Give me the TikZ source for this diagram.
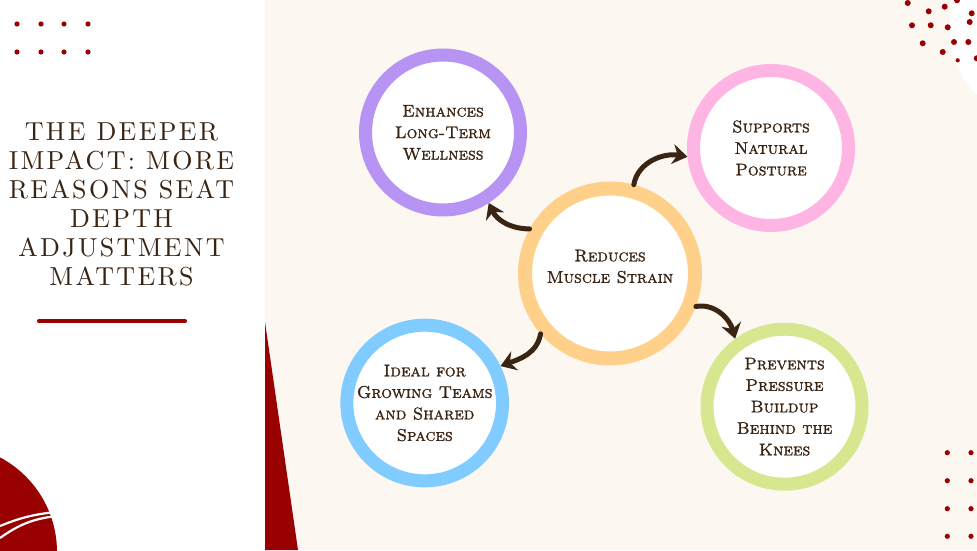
\documentclass[tikz,border=0pt]{standalone}
\usepackage{fontspec}
\usetikzlibrary{arrows.meta}
\newfontfamily\titlefont{lmroman10-regular.otf}[LetterSpace=9]
\newfontfamily\ringfont{lmromancaps10-regular.otf}[FakeBold=1.2]
\definecolor{cream}{HTML}{FCF8F1}
\definecolor{darkred}{HTML}{990000}
\definecolor{ink}{HTML}{3A2413}
\definecolor{ringorange}{HTML}{FFD08A}
\definecolor{ringpurple}{HTML}{B794F4}
\definecolor{ringpink}{HTML}{FFB5E3}
\definecolor{ringblue}{HTML}{80CBFF}
\definecolor{ringgreen}{HTML}{D7E78F}
\begin{document}
\begin{tikzpicture}[x=1pt,y=1pt,
    ring/.style={circle,draw=#1,fill=white,line width=13pt,minimum size=155pt,inner sep=0pt,
      text=ink,align=center,font=\ringfont\fontsize{17}{21.5}\selectfont},
    bigring/.style={ring=#1,line width=14pt,minimum size=170pt},
    link/.style={ink,line width=5pt,line cap=round,-{Stealth[length=15pt,width=20pt,inset=5pt]}}]
        \def\W{977} \def\H{550}
        \useasboundingbox (0,0) rectangle (\W,\H);
        \begin{scope}
          \clip (0,0) rectangle (\W,\H);
          \fill[white] (0,0) rectangle (\W,\H);
          \fill[cream] (265,0) rectangle (\W,\H);
          \fill[white] (1041.7,520) circle (91.7);
          \fill[darkred] (265,228) -- (265,0) -- (298,0) -- cycle;
          \fill[darkred] (-50,-2) circle (107);
          \draw[white,line width=2.2pt] (0,24) to[bend left=8] (56,38);
          \draw[white,line width=2.2pt] (0,12) to[bend left=14] (56,34);
        \end{scope}

        \foreach \x in {17,41,64,88}
          \foreach \y in {526,498}
            \fill[darkred] (\x,\y) circle (2.6);
        \foreach \x in {947.3,971}
          \foreach \y in {97.3,69.3,41.3,13.7}
            \fill[darkred] (\x,\y) circle (2.6);
        \foreach \x/\y in {907.7/547,928.7/538.7,944.7/543.3,957/549.7,971.7/536.7,969.7/528,
                            912/524.7,930.7/524.7,947.7/522.7,922.7/506.7,954/508,968.3/508,
                            942.7/498,976.7/491.7}
          \fill[darkred] (\x,\y) circle (3);
        \fill[darkred] (957.7,489.7) circle (2.1);

        \node (title) at (121.5,345.5) [text=ink,align=center,font=\titlefont\fontsize{26}{29}\selectfont]
          {THE DEEPER\\IMPACT: MORE\\REASONS SEAT\\DEPTH\\ADJUSTMENT\\MATTERS};
        \draw[darkred,line width=4pt,line cap=round] (39,229) -- (185,229);

        \node (strain) at (610,276.5) [bigring=ringorange] {Reduces\\Muscle Strain\\[-7pt]\mbox{}};
        \node (wellness) at (443,417.5) [ring=ringpurple] {Enhances\\Long-Term\\Wellness};
        \node (posture) at (771,402) [ring=ringpink] {Supports\\Natural\\Posture};
        \node (teams) at (424.7,147) [ring=ringblue] {Ideal for\\Growing Teams\\and Shared\\Spaces};
        \node (knees) at (784.5,143.3) [ring=ringgreen] {Prevents\\Pressure\\Buildup\\Behind the\\Knees};

        \draw[link] (strain.151) to[out=180,in=-65] (wellness.-57);
        \draw[link] (strain.75) to[out=80,in=170] (posture.186);
        \draw[link] (strain.-21) to[out=10,in=105] (knees.126);
        \draw[link] (strain.221) to[out=-100,in=20] (teams.26);
      \end{tikzpicture}
\end{document}
